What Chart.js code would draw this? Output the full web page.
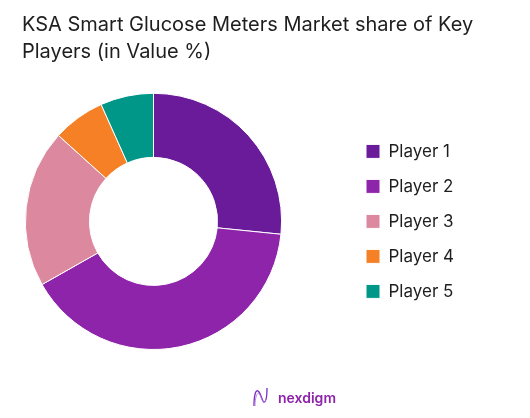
<!DOCTYPE html>
<html>
<head>
<meta charset="utf-8">
<script src="https://cdn.jsdelivr.net/npm/chart.js@4.4.0/dist/chart.umd.min.js"></script>
<style>
  html, body { margin: 0; padding: 0; background: #fff; overflow: hidden; }
  #wrap { position: relative; width: 530px; height: 418px; }
  #logo { position: absolute; left: 252px; top: 386px; display: flex; align-items: center;
          font-family: "Inter", sans-serif; font-weight: 600; font-size: 14px; color: #8e24aa; }
  #logo svg { margin-right: 9px; }
</style>
</head>
<body>
<div id="wrap">
  <canvas id="pie" width="530" height="418"></canvas>
  <div id="logo">
    <svg width="17" height="22" viewBox="0 0 17 22">
      <path d="M2 20 C2 8, 4 2, 7 6 S10 16, 12 16 S15 10, 15 2" fill="none" stroke="#7b2cbf" stroke-width="1.3"/>
      <path d="M3 20 C3 10, 6 4, 8 9 S11 18, 14 14" fill="none" stroke="#b07ad8" stroke-width="0.9"/>
    </svg>
    <span>nexdigm</span>
  </div>
</div>
<script>
const players = ["Player 1", "Player 2", "Player 3", "Player 4", "Player 5"];
const shares = [26.6, 40.2, 19.9, 6.6, 6.7];
const colors = ["#6a1b9a", "#8e24aa", "#dc889f", "#f58025", "#009688"];
const titleLines = ["KSA Smart Glucose Meters Market share of Key", "Players (in Value %)"];

// chart.js puts the legend right against the chart area,
// so narrow the doughnut area and move the legend box to where the design has it
const fitLayout = {
    id: "fitLayout",
    afterLayout(chart) {
        const ca = chart.chartArea;
        ca.right = 285;
        ca.width = ca.right - ca.left;
        const lg = chart.legend;
        lg.left = 348;
        lg.right = 530;
        lg.width = lg.right - lg.left;
        lg.top = ca.top;
        lg.bottom = ca.bottom;
        lg.height = ca.height;
    }
};

new Chart(document.getElementById("pie"), {
    type: "doughnut",
    data: {
        labels: players,
        datasets: [
            {
                data: shares,
                backgroundColor: colors,
                borderColor: "#fff",
                borderWidth: 1
            }
        ]
    },
    options: {
        responsive: false,
        animation: false,
        cutout: "50%",
        layout: {
            padding: { left: 22, right: 0, top: 0, bottom: 68 }
        },
        plugins: {
            title: {
                display: true,
                text: titleLines,
                align: "start",
                color: "#1e1e1e",
                font: { family: "Inter", size: 20, weight: "normal", lineHeight: 1.32 },
                padding: { top: 12, bottom: 28 }
            },
            legend: {
                position: "right",
                align: "center",
                labels: {
                    boxWidth: 14,
                    boxHeight: 14,
                    padding: 18,
                    color: "#1e1e1e",
                    font: { family: "Inter", size: 17 }
                }
            },
            tooltip: { enabled: false }
        }
    },
    plugins: [fitLayout]
});
</script>
</body>
</html>
